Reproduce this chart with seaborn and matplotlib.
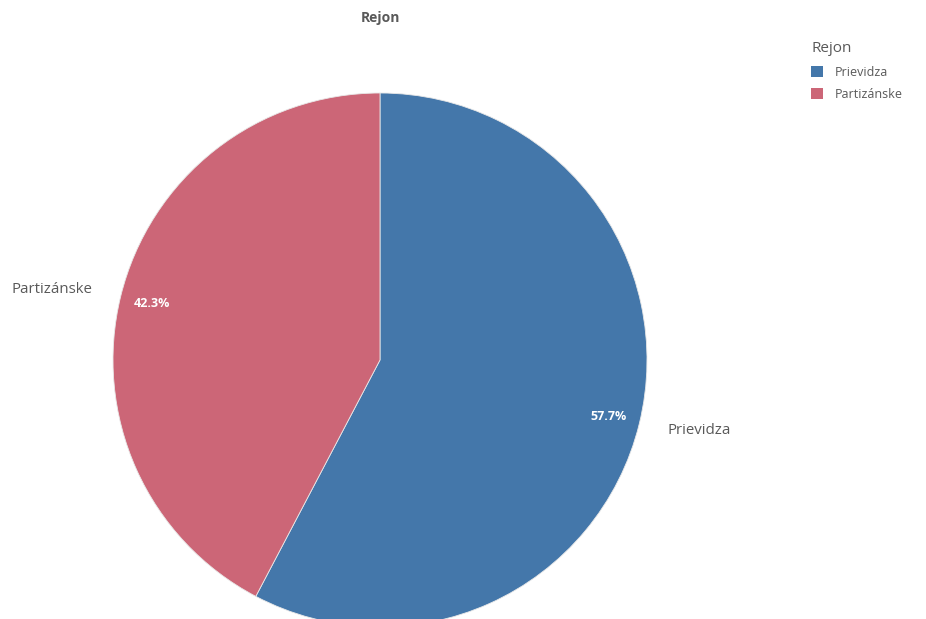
import matplotlib
matplotlib.use("Agg")
import matplotlib.pyplot as plt
import seaborn as sns
from matplotlib.patches import Patch

# Rejon share
regions = ["Prievidza", "Partizánske"]
shares = [57.7, 42.3]
colors = ["#4477aa", "#cc6677"]

sns.set_theme(style="white")
plt.rcParams['font.family'] = ['Open Sans', 'DejaVu Sans']

fig = plt.figure(figsize=(9.26, 6.19), dpi=100)
ax = fig.add_axes([0, 0, 1, 1])

cx, cy = 380, 259
wedges, texts, autotexts = ax.pie(
    shares, labels=regions, colors=colors, startangle=90, counterclock=False,
    center=(cx, cy), radius=267, labeldistance=1.11, pctdistance=0.88,
    autopct='%1.1f%%', frame=True,
    wedgeprops=dict(edgecolor='#e8e8e8', linewidth=0.6),
    textprops=dict(fontsize=10.8, color='#595959'))
for t in texts:
    x, y = t.get_position()
    t.set_ha('left' if x > cx else 'right')
for t in autotexts:
    t.set_color('white')
    t.set_fontsize(9)
    t.set_fontweight('bold')
ax.set_xlim(0, 926)
ax.set_ylim(0, 619)
ax.set_aspect('equal')
ax.axis('off')

fig.text(380 / 926, 1 - 18 / 619, "Rejon", ha='center', va='center',
         fontsize=10, fontweight='bold', color='#595959')

handles = [Patch(facecolor=c, edgecolor='none') for c in colors]
leg = fig.legend(handles, regions, title="Rejon", loc='upper left',
                 bbox_to_anchor=(800 / 926, 1 - 30 / 619), frameon=False,
                 fontsize=9, title_fontsize=11, handlelength=0.95, handleheight=0.95,
                 handletextpad=0.9, labelspacing=0.75, alignment='left')
for t in leg.get_texts():
    t.set_color('#595959')
leg.get_title().set_color('#595959')

fig.savefig("out.png", dpi=100)
